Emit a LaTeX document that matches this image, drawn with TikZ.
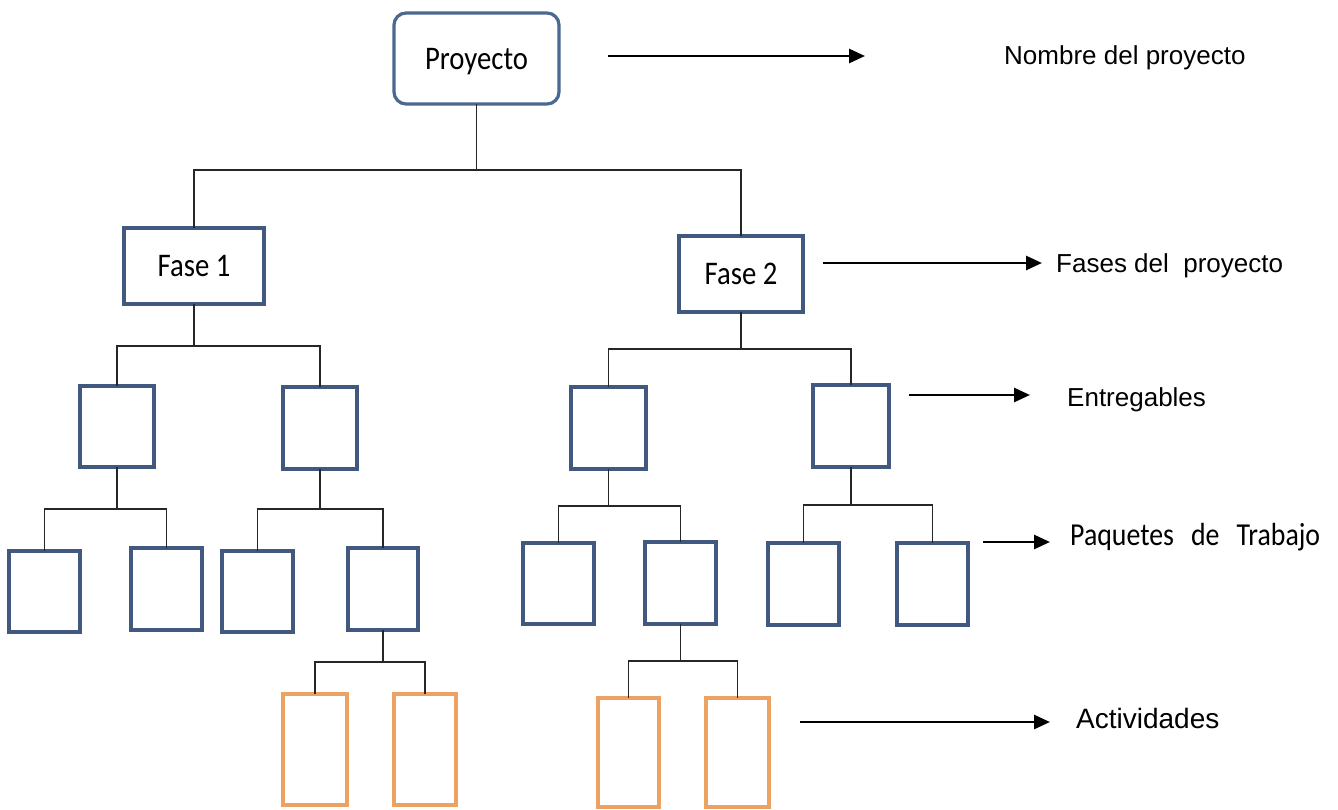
\documentclass[tikz,border=0pt]{standalone}
\usepackage{fontspec}
\setmainfont{Liberation Sans}
\newfontfamily\boxfont[FakeStretch=0.87]{Carlito}
\usetikzlibrary{arrows.meta}
\definecolor{wbsblue}{HTML}{41597F}
\definecolor{projblue}{HTML}{4B6891}
\definecolor{actorange}{HTML}{EBA262}
\definecolor{linkgray}{HTML}{262626}

\begin{document}
\begin{tikzpicture}[x=1bp,y=-1bp,
  sz/.style 2 args={minimum width=#1bp, minimum height=#2bp},
  wbs/.style={draw=wbsblue, line width=4bp, fill=white, inner sep=0pt, outer sep=0pt},
  act/.style={draw=actorange, line width=4bp, fill=white, inner sep=0pt, outer sep=0pt},
  boxtext/.style={font=\boxfont\fontsize{33bp}{38bp}\selectfont, text depth=0pt},
  link/.style={draw=linkgray, line width=1.6bp},
  pointer/.style={draw=black, line width=2.8bp, -{Triangle[length=16bp,width=14bp]}},
  legend/.style={anchor=base west, inner sep=0pt, font=\fontsize{26bp}{30bp}\selectfont},
]
\fill[white] (0,0) rectangle (1338,809);
\useasboundingbox (0,0) rectangle (1338,809);

% project root
\node[wbs, draw=projblue, line width=3.2bp, rounded corners=12bp, sz={165}{91}, boxtext] (proj) at (476.5,58.5) {Proyecto};

% phases
\node[wbs, sz={140}{76}, boxtext] (f1) at (194,266) {Fase 1};
\node[wbs, sz={124}{76}, boxtext] (f2) at (741,274) {Fase 2};

% deliverables
\node[wbs, sz={74}{81}] (e1) at (117,426.5) {};
\node[wbs, sz={74}{82}] (e2) at (320,428) {};
\node[wbs, sz={75}{82}] (e3) at (608.5,428) {};
\node[wbs, sz={76}{82}] (e4) at (851,426) {};

% work packages
\node[wbs, sz={71}{81}] (p1) at (44.5,591.5) {};
\node[wbs, sz={71}{82}] (p2) at (166.5,589) {};
\node[wbs, sz={71}{81}] (p3) at (257.5,591.5) {};
\node[wbs, sz={70}{82}] (p4) at (383,589) {};
\node[wbs, sz={71}{81}] (p5) at (558.5,583.5) {};
\node[wbs, sz={71}{82}] (p6) at (680.5,583) {};
\node[wbs, sz={71}{82}] (p7) at (803.5,584) {};
\node[wbs, sz={71}{82}] (p8) at (932.5,584) {};

% activities
\node[act, sz={64}{111}] (a1) at (315,749.5) {};
\node[act, sz={62}{111}] (a2) at (425,749.5) {};
\node[act, sz={61}{109}] (a3) at (628.5,752.5) {};
\node[act, sz={63}{109}] (a4) at (737.5,752.5) {};

% branch levels
\coordinate (y0) at (0,170);
\coordinate (y1a) at (0,346);
\coordinate (y1b) at (0,349);
\coordinate (y2a) at (0,509);
\coordinate (y2b) at (0,506);
\coordinate (y2c) at (0,505);
\coordinate (y3a) at (0,662);
\coordinate (y3b) at (0,661);

% tree connectors
\draw[link] (proj.south) -- (proj.south |- y0);
\draw[link] (f1.north) |- (proj.south |- y0) -| (f2.north);

\draw[link] (f1.south) -- (f1.south |- y1a);
\draw[link] (e1.north) |- (f1.south |- y1a) -| (e2.north);
\draw[link] (f2.south) -- (f2.south |- y1b);
\draw[link] (e3.north) |- (f2.south |- y1b) -| (e4.north);

\draw[link] (e1.south) -- (e1.south |- y2a);
\draw[link] (p1.north) |- (e1.south |- y2a) -| (p2.north);
\draw[link] (e2.south) -- (e2.south |- y2a);
\draw[link] (p3.north) |- (e2.south |- y2a) -| (p4.north);
\draw[link] (e3.south) -- (e3.south |- y2b);
\draw[link] (p5.north) |- (e3.south |- y2b) -| (p6.north);
\draw[link] (e4.south) -- (e4.south |- y2c);
\draw[link] (p7.north) |- (e4.south |- y2c) -| (p8.north);

\draw[link] (p4.south) -- (p4.south |- y3a);
\draw[link] (a1.north) |- (p4.south |- y3a) -| (a2.north);
\draw[link] (p6.south) -- (p6.south |- y3b);
\draw[link] (a3.north) |- (p6.south |- y3b) -| (a4.north);

% level legend
\coordinate (n0) at (608,56);   \coordinate (n1) at (865,56);
\coordinate (s0) at (823,263);  \coordinate (s1) at (1042,263);
\coordinate (d0) at (909,395);  \coordinate (d1) at (1030,395);
\coordinate (w0) at (983,542);  \coordinate (w1) at (1050,542);
\coordinate (t0) at (800,722);  \coordinate (t1) at (1050,722);

\draw[pointer] (n0) -- (n1);
\draw[pointer] (s0) -- (s1);
\draw[pointer] (d0) -- (d1);
\draw[pointer] (w0) -- (w1);
\draw[pointer] (t0) -- (t1);

\node[legend] (ln) at (1004,65) {Nombre del proyecto};
\node[legend] (ls) at (1056,272) {Fases del\ \ proyecto};
\node[legend] (ld) at (1067,406) {Entregables};
\node[legend, font=\boxfont\fontsize{32bp}{38bp}\selectfont] (lw) at (1070,545) {Paquetes\hspace{17bp}de\hspace{17bp}Trabajo};
\node[legend, font=\fontsize{28bp}{32bp}\selectfont] (lt) at (1076,728) {Actividades};
\end{tikzpicture}
\end{document}
